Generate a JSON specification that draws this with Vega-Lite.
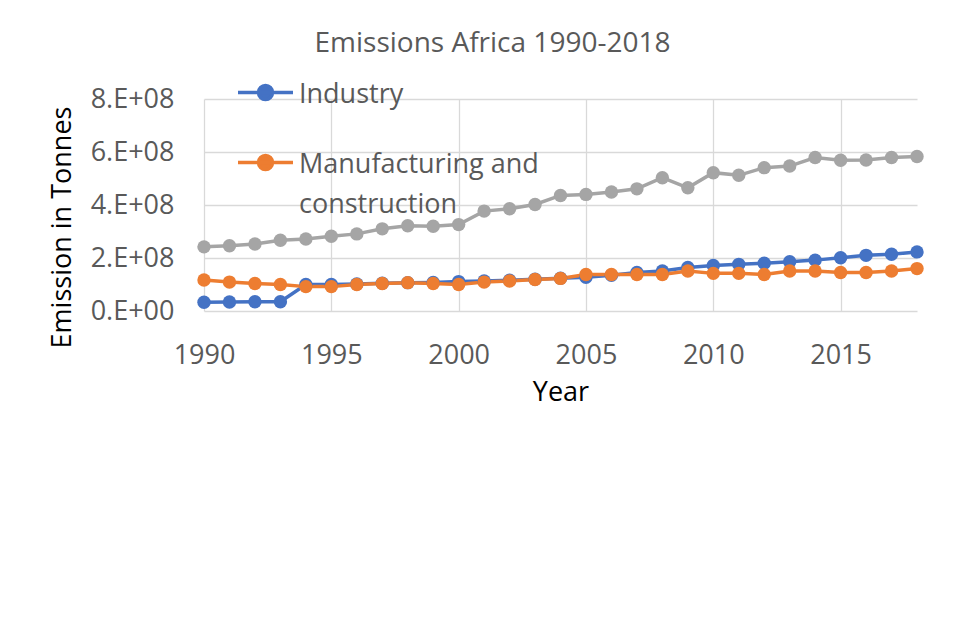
{
  "$schema": "https://vega.github.io/schema/vega-lite/v6.json",
  "width": 713,
  "height": 212,
  "autosize": {"type": "none"},
  "padding": {"left": 204, "top": 99, "right": 57, "bottom": 315},
  "background": "white",
  "title": {
    "text": "Emissions Africa 1990-2018",
    "font": "Open Sans",
    "fontSize": 28,
    "fontWeight": "normal",
    "color": "#595959",
    "anchor": "middle",
    "frame": "group",
    "baseline": "alphabetic",
    "dx": -68,
    "dy": 63,
    "offset": 46
  },
  "config": {
    "view": {"stroke": null},
    "axis": {
      "grid": true,
      "gridColor": "#d9d9d9",
      "gridWidth": 1.3,
      "domain": false,
      "ticks": false,
      "labelFont": "Open Sans",
      "labelFontSize": 27,
      "labelColor": "#595959",
      "titleFont": "Open Sans",
      "titleFontSize": 27,
      "titleFontWeight": "normal",
      "titleColor": "#000000"
    }
  },
  "data": {
    "values": [
      {"year": 1990, "series": "Industry", "emission": 33000000},
      {"year": 1991, "series": "Industry", "emission": 34000000},
      {"year": 1992, "series": "Industry", "emission": 35000000},
      {"year": 1993, "series": "Industry", "emission": 35000000},
      {"year": 1994, "series": "Industry", "emission": 100000000},
      {"year": 1995, "series": "Industry", "emission": 100000000},
      {"year": 1996, "series": "Industry", "emission": 102000000},
      {"year": 1997, "series": "Industry", "emission": 105000000},
      {"year": 1998, "series": "Industry", "emission": 107000000},
      {"year": 1999, "series": "Industry", "emission": 108000000},
      {"year": 2000, "series": "Industry", "emission": 111000000},
      {"year": 2001, "series": "Industry", "emission": 113000000},
      {"year": 2002, "series": "Industry", "emission": 116000000},
      {"year": 2003, "series": "Industry", "emission": 120000000},
      {"year": 2004, "series": "Industry", "emission": 124000000},
      {"year": 2005, "series": "Industry", "emission": 127000000},
      {"year": 2006, "series": "Industry", "emission": 135000000},
      {"year": 2007, "series": "Industry", "emission": 145000000},
      {"year": 2008, "series": "Industry", "emission": 151000000},
      {"year": 2009, "series": "Industry", "emission": 164000000},
      {"year": 2010, "series": "Industry", "emission": 172000000},
      {"year": 2011, "series": "Industry", "emission": 176000000},
      {"year": 2012, "series": "Industry", "emission": 180000000},
      {"year": 2013, "series": "Industry", "emission": 186000000},
      {"year": 2014, "series": "Industry", "emission": 192000000},
      {"year": 2015, "series": "Industry", "emission": 201000000},
      {"year": 2016, "series": "Industry", "emission": 210000000},
      {"year": 2017, "series": "Industry", "emission": 214000000},
      {"year": 2018, "series": "Industry", "emission": 223000000},
      {"year": 1990, "series": "Manufacturing and construction", "emission": 117000000},
      {"year": 1991, "series": "Manufacturing and construction", "emission": 109000000},
      {"year": 1992, "series": "Manufacturing and construction", "emission": 104000000},
      {"year": 1993, "series": "Manufacturing and construction", "emission": 100000000},
      {"year": 1994, "series": "Manufacturing and construction", "emission": 92000000},
      {"year": 1995, "series": "Manufacturing and construction", "emission": 92000000},
      {"year": 1996, "series": "Manufacturing and construction", "emission": 100000000},
      {"year": 1997, "series": "Manufacturing and construction", "emission": 104000000},
      {"year": 1998, "series": "Manufacturing and construction", "emission": 107000000},
      {"year": 1999, "series": "Manufacturing and construction", "emission": 104000000},
      {"year": 2000, "series": "Manufacturing and construction", "emission": 100000000},
      {"year": 2001, "series": "Manufacturing and construction", "emission": 109000000},
      {"year": 2002, "series": "Manufacturing and construction", "emission": 113000000},
      {"year": 2003, "series": "Manufacturing and construction", "emission": 119000000},
      {"year": 2004, "series": "Manufacturing and construction", "emission": 123000000},
      {"year": 2005, "series": "Manufacturing and construction", "emission": 138000000},
      {"year": 2006, "series": "Manufacturing and construction", "emission": 138000000},
      {"year": 2007, "series": "Manufacturing and construction", "emission": 138000000},
      {"year": 2008, "series": "Manufacturing and construction", "emission": 138000000},
      {"year": 2009, "series": "Manufacturing and construction", "emission": 151000000},
      {"year": 2010, "series": "Manufacturing and construction", "emission": 142000000},
      {"year": 2011, "series": "Manufacturing and construction", "emission": 142000000},
      {"year": 2012, "series": "Manufacturing and construction", "emission": 138000000},
      {"year": 2013, "series": "Manufacturing and construction", "emission": 151000000},
      {"year": 2014, "series": "Manufacturing and construction", "emission": 151000000},
      {"year": 2015, "series": "Manufacturing and construction", "emission": 145000000},
      {"year": 2016, "series": "Manufacturing and construction", "emission": 145000000},
      {"year": 2017, "series": "Manufacturing and construction", "emission": 151000000},
      {"year": 2018, "series": "Manufacturing and construction", "emission": 160000000},
      {"year": 1990, "series": "Series 3", "emission": 242000000},
      {"year": 1991, "series": "Series 3", "emission": 246000000},
      {"year": 1992, "series": "Series 3", "emission": 253000000},
      {"year": 1993, "series": "Series 3", "emission": 267000000},
      {"year": 1994, "series": "Series 3", "emission": 272000000},
      {"year": 1995, "series": "Series 3", "emission": 282000000},
      {"year": 1996, "series": "Series 3", "emission": 291000000},
      {"year": 1997, "series": "Series 3", "emission": 310000000},
      {"year": 1998, "series": "Series 3", "emission": 322000000},
      {"year": 1999, "series": "Series 3", "emission": 320000000},
      {"year": 2000, "series": "Series 3", "emission": 326000000},
      {"year": 2001, "series": "Series 3", "emission": 377000000},
      {"year": 2002, "series": "Series 3", "emission": 386000000},
      {"year": 2003, "series": "Series 3", "emission": 402000000},
      {"year": 2004, "series": "Series 3", "emission": 436000000},
      {"year": 2005, "series": "Series 3", "emission": 440000000},
      {"year": 2006, "series": "Series 3", "emission": 449000000},
      {"year": 2007, "series": "Series 3", "emission": 461000000},
      {"year": 2008, "series": "Series 3", "emission": 503000000},
      {"year": 2009, "series": "Series 3", "emission": 465000000},
      {"year": 2010, "series": "Series 3", "emission": 522000000},
      {"year": 2011, "series": "Series 3", "emission": 512000000},
      {"year": 2012, "series": "Series 3", "emission": 541000000},
      {"year": 2013, "series": "Series 3", "emission": 547000000},
      {"year": 2014, "series": "Series 3", "emission": 579000000},
      {"year": 2015, "series": "Series 3", "emission": 569000000},
      {"year": 2016, "series": "Series 3", "emission": 570000000},
      {"year": 2017, "series": "Series 3", "emission": 579000000},
      {"year": 2018, "series": "Series 3", "emission": 583000000}
    ]
  },
  "mark": {
    "type": "line",
    "strokeWidth": 3.5,
    "point": {"filled": true, "size": 180, "opacity": 1}
  },
  "encoding": {
    "x": {
      "field": "year",
      "type": "quantitative",
      "scale": {"domain": [1990, 2018], "nice": false, "zero": false},
      "axis": {
        "values": [1990, 1995, 2000, 2005, 2010, 2015],
        "format": "d",
        "labelFlush": false,
        "labelOverlap": false,
        "labelPadding": 31,
        "labelBaseline": "top",
        "title": "Year",
        "titleBaseline": "alphabetic",
        "titleY": 89
      }
    },
    "y": {
      "field": "emission",
      "type": "quantitative",
      "scale": {"domain": [0, 800000000], "nice": false},
      "axis": {
        "values": [0, 200000000, 400000000, 600000000, 800000000],
        "labelExpr": "datum.value == 0 ? '0.E+00' : (datum.value / 100000000) + '.E+08'",
        "labelFlush": false,
        "labelPadding": 30,
        "labelBaseline": "middle",
        "title": "Emission in Tonnes",
        "titleAngle": -90,
        "titleAlign": "center",
        "titleBaseline": "alphabetic",
        "titleX": -134,
        "titleY": 128
      }
    },
    "color": {
      "field": "series",
      "type": "nominal",
      "scale": {
        "domain": ["Industry", "Manufacturing and construction", "Series 3"],
        "range": ["#4472C4", "#ED7D31", "#A5A5A5"]
      },
      "legend": {
        "orient": "none",
        "legendX": 32,
        "legendY": -36,
        "title": null,
        "padding": 0,
        "values": ["Industry", "Manufacturing and construction"],
        "symbolType": "M-1,0L1,0M-0.255,0A0.255,0.255,0,1,0,0.255,0A0.255,0.255,0,1,0,-0.255,0Z",
        "symbolSize": 3025,
        "symbolStrokeWidth": 3.5,
        "labelFont": "Open Sans",
        "labelFontSize": 27,
        "labelColor": "#595959",
        "labelLimit": 600,
        "labelOffset": 4,
        "labelBaseline": "alphabetic",
        "labelExpr": "datum.label == 'Manufacturing and construction' ? ['Manufacturing and', 'construction'] : datum.label",
        "rowPadding": 25,
        "encode": {
          "symbols": {"update": {"fill": {"scale": "color", "field": "value"}, "stroke": {"scale": "color", "field": "value"}, "opacity": {"value": 1}}},
          "labels": {"update": {"lineHeight": {"value": 40}, "dy": {"value": 10}}}
        }
      }
    }
  }
}
